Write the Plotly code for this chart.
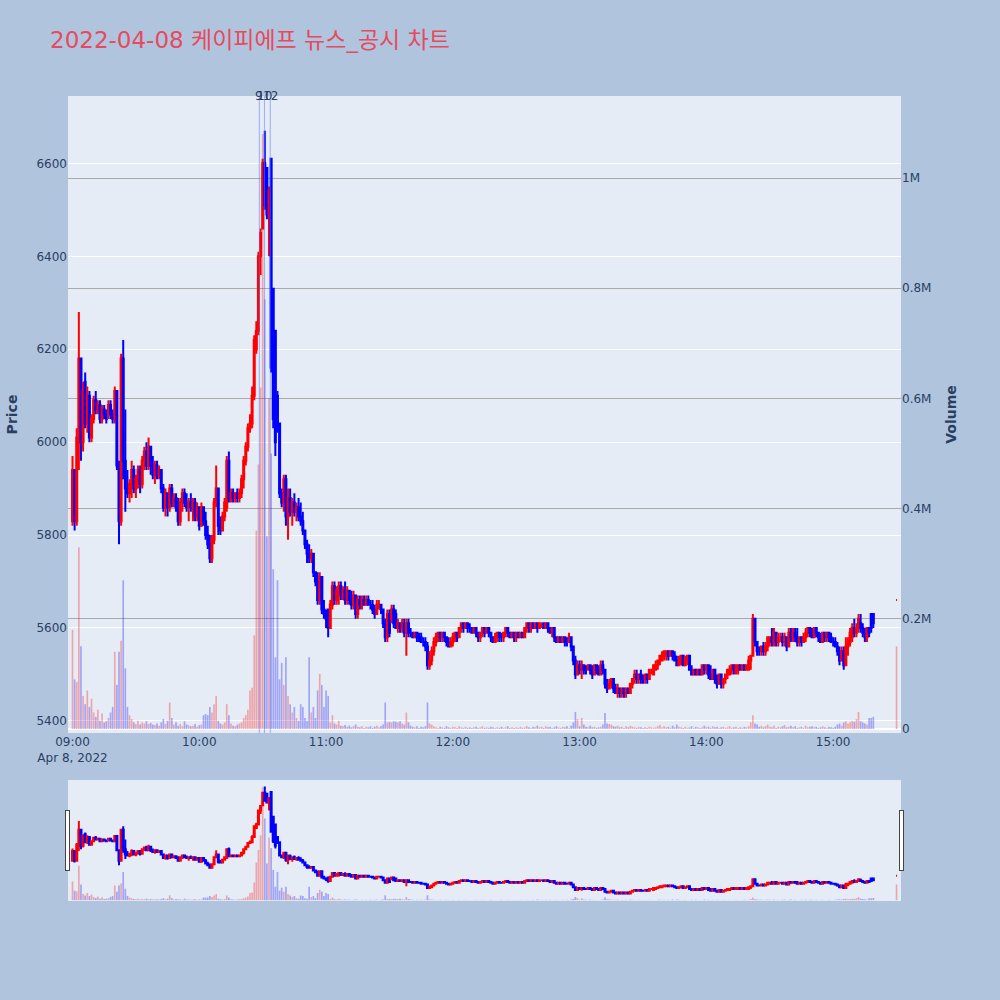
import pandas as pd
import plotly.graph_objects as go

title_text = "2022-04-08 케이피에프 뉴스_공시 차트"

times = pd.date_range("2022-04-08 09:00", "2022-04-08 15:19", freq="1min").append(
    pd.DatetimeIndex(["2022-04-08 15:30"]))

open_ = [
    5830,5940,5830,6000,6180,6000,6130,6040,6100,6010,
    6050,6090,6070,6080,6050,6070,6060,6060,6080,6060,
    6050,6110,5950,5830,6180,5960,5900,5890,5910,5940,
    5900,5920,5940,5910,5960,5980,5950,5990,5950,5930,
    5950,5930,5940,5900,5860,5890,5860,5900,5870,5880,
    5860,5830,5870,5890,5870,5860,5870,5860,5870,5840,
    5860,5820,5860,5830,5800,5780,5750,5790,5870,5900,
    5820,5810,5840,5860,5960,5880,5890,5880,5890,5880,
    5890,5920,5960,5990,6030,6040,6100,6200,6240,6400,
    6460,6600,6590,6490,6610,6330,6240,6100,6040,5890,
    5870,5920,5840,5880,5850,5870,5850,5860,5840,5830,
    5810,5780,5760,5750,5760,5720,5700,5660,5710,5640,
    5630,5640,5600,5650,5690,5660,5680,5690,5670,5680,
    5660,5680,5660,5650,5670,5630,5660,5650,5660,5650,
    5660,5650,5650,5640,5630,5650,5650,5640,5610,5580,
    5630,5620,5640,5630,5600,5610,5600,5610,5590,5610,
    5590,5590,5580,5590,5580,5580,5570,5570,5560,5520,
    5530,5550,5570,5580,5590,5580,5590,5580,5570,5560,
    5570,5580,5590,5580,5600,5610,5600,5610,5600,5600,
    5590,5600,5590,5580,5590,5600,5590,5600,5590,5580,
    5570,5580,5590,5580,5580,5590,5600,5590,5580,5590,
    5580,5590,5580,5590,5580,5600,5610,5600,5610,5600,
    5610,5600,5610,5610,5600,5610,5600,5590,5600,5580,
    5570,5580,5570,5580,5570,5570,5580,5560,5530,5500,
    5520,5510,5520,5510,5510,5520,5510,5500,5520,5510,
    5500,5520,5510,5480,5470,5480,5490,5470,5460,5470,
    5460,5470,5460,5470,5460,5480,5490,5500,5490,5500,
    5490,5490,5500,5490,5510,5500,5510,5520,5530,5530,
    5540,5540,5550,5540,5550,5540,5530,5520,5530,5540,
    5520,5530,5540,5510,5500,5510,5500,5510,5500,5520,
    5510,5520,5500,5490,5510,5490,5480,5500,5480,5490,
    5500,5500,5510,5520,5510,5510,5520,5510,5520,5510,
    5510,5530,5540,5620,5570,5550,5550,5560,5550,5560,
    5570,5580,5570,5590,5570,5580,5580,5570,5580,5560,
    5590,5580,5590,5580,5570,5580,5570,5580,5590,5600,
    5590,5580,5600,5590,5580,5570,5590,5580,5590,5580,
    5570,5570,5560,5550,5530,5550,5520,5560,5570,5580,
    5600,5590,5600,5610,5600,5590,5580,5600,5630,5630,
    5660,
]

high = [
    5970,5940,6030,6280,6180,6130,6150,6120,6110,6060,
    6100,6110,6090,6090,6080,6080,6070,6090,6090,6070,
    6120,6110,5960,6190,6220,6070,5940,5920,5960,5950,
    5930,5950,5950,5970,5990,6000,6010,5990,5970,5960,
    5960,5950,5940,5910,5900,5890,5910,5910,5890,5890,
    5880,5880,5900,5900,5890,5880,5890,5880,5880,5870,
    5860,5870,5860,5850,5820,5800,5800,5880,5950,5900,
    5840,5850,5880,5970,5980,5900,5900,5890,5900,5900,
    5930,5970,6000,6040,6060,6120,6230,6260,6410,6460,
    6610,6670,6590,6550,6610,6330,6240,6110,6040,5900,
    5930,5930,5900,5900,5880,5890,5870,5880,5870,5850,
    5810,5790,5780,5770,5760,5720,5720,5720,5710,5660,
    5640,5640,5660,5700,5700,5690,5700,5700,5690,5700,
    5690,5680,5680,5680,5670,5670,5670,5670,5670,5670,
    5670,5660,5660,5650,5660,5660,5650,5640,5620,5640,
    5640,5650,5650,5640,5620,5610,5620,5620,5620,5620,
    5600,5590,5590,5590,5590,5590,5580,5580,5570,5550,
    5560,5580,5590,5590,5590,5590,5590,5580,5580,5580,
    5590,5590,5590,5600,5610,5610,5610,5610,5610,5600,
    5600,5600,5590,5590,5600,5600,5600,5600,5590,5580,
    5590,5590,5590,5590,5590,5600,5600,5590,5590,5590,
    5590,5590,5590,5590,5600,5610,5610,5610,5610,5610,
    5610,5610,5610,5610,5610,5610,5600,5600,5600,5580,
    5580,5580,5580,5580,5580,5590,5580,5560,5540,5530,
    5530,5530,5520,5520,5520,5520,5520,5520,5520,5520,
    5530,5530,5510,5490,5490,5490,5490,5480,5480,5470,
    5470,5470,5470,5470,5480,5490,5510,5510,5500,5510,
    5500,5500,5500,5510,5510,5520,5530,5530,5540,5550,
    5550,5550,5550,5550,5550,5550,5540,5540,5540,5540,
    5540,5540,5540,5520,5510,5510,5510,5510,5520,5520,
    5520,5520,5520,5510,5510,5500,5500,5500,5490,5500,
    5510,5520,5520,5520,5520,5520,5520,5520,5520,5520,
    5540,5540,5630,5620,5570,5560,5560,5570,5570,5580,
    5580,5600,5600,5590,5590,5590,5590,5590,5580,5600,
    5600,5600,5600,5600,5580,5580,5590,5600,5600,5600,
    5600,5600,5600,5590,5590,5590,5590,5590,5590,5590,
    5580,5580,5570,5560,5560,5560,5580,5580,5600,5610,
    5620,5610,5630,5630,5610,5600,5600,5600,5630,5630,
    5660,
]

low = [
    5820,5810,5820,5940,5960,5980,6030,6020,6000,6000,
    6040,6060,6060,6040,6040,6050,6040,6050,6050,6040,
    6040,5940,5780,5820,5920,5850,5880,5870,5880,5890,
    5880,5900,5890,5900,5940,5940,5940,5930,5920,5910,
    5920,5920,5890,5850,5840,5840,5850,5860,5860,5850,
    5820,5820,5850,5860,5850,5830,5850,5830,5830,5830,
    5810,5820,5820,5790,5770,5740,5740,5780,5860,5800,
    5800,5810,5830,5850,5870,5870,5870,5870,5870,5870,
    5880,5900,5950,5980,6020,6030,6090,6190,6230,6360,
    6460,6500,6480,6400,6150,6030,5970,6020,5880,5860,
    5850,5820,5790,5840,5820,5840,5830,5830,5820,5800,
    5770,5740,5740,5740,5710,5690,5650,5650,5630,5620,
    5600,5580,5600,5640,5650,5650,5650,5660,5660,5650,
    5650,5650,5640,5640,5620,5620,5640,5640,5650,5650,
    5650,5640,5630,5620,5630,5640,5630,5600,5570,5570,
    5580,5610,5600,5600,5590,5590,5590,5580,5540,5580,
    5580,5580,5580,5570,5570,5570,5560,5550,5510,5510,
    5520,5540,5560,5570,5570,5570,5570,5560,5560,5560,
    5560,5570,5570,5580,5590,5590,5600,5590,5590,5590,
    5590,5580,5570,5570,5580,5580,5590,5580,5570,5570,
    5570,5570,5570,5570,5570,5580,5580,5580,5580,5570,
    5570,5580,5580,5580,5580,5590,5590,5590,5600,5600,
    5590,5600,5600,5600,5600,5590,5590,5580,5570,5570,
    5570,5570,5570,5560,5560,5570,5550,5520,5490,5500,
    5500,5490,5500,5500,5510,5500,5490,5500,5500,5500,
    5500,5500,5470,5460,5470,5470,5460,5460,5450,5450,
    5450,5450,5450,5460,5460,5470,5480,5480,5480,5480,
    5480,5480,5480,5490,5500,5500,5510,5510,5520,5530,
    5530,5530,5530,5540,5530,5530,5520,5520,5520,5520,
    5520,5520,5510,5500,5500,5500,5500,5500,5500,5500,
    5500,5490,5490,5490,5480,5470,5480,5470,5470,5480,
    5490,5500,5500,5500,5500,5500,5510,5510,5510,5510,
    5510,5510,5540,5560,5540,5540,5540,5540,5540,5550,
    5560,5560,5560,5560,5560,5570,5560,5560,5550,5560,
    5570,5570,5570,5560,5560,5560,5570,5570,5580,5580,
    5580,5580,5580,5570,5570,5570,5570,5570,5570,5570,
    5560,5560,5540,5520,5530,5510,5520,5540,5560,5570,
    5580,5580,5590,5590,5580,5570,5570,5580,5590,5600,
    5660,
]

close = [
    5940,5830,6010,6180,6000,6110,6040,6100,6010,6050,
    6090,6070,6080,6050,6070,6060,6050,6080,6060,6050,
    6110,5950,5830,6180,5960,5900,5890,5910,5940,5900,
    5920,5940,5910,5960,5980,5950,5990,5950,5930,5950,
    5930,5940,5900,5860,5890,5860,5900,5870,5880,5860,
    5830,5870,5890,5870,5860,5870,5860,5870,5840,5860,
    5820,5860,5830,5800,5780,5750,5790,5870,5900,5820,
    5810,5840,5870,5960,5880,5890,5880,5890,5880,5890,
    5920,5960,5990,6030,6040,6100,6220,6240,6400,6450,
    6600,6510,6490,6540,6160,6050,6000,6030,5890,5870,
    5920,5840,5880,5850,5870,5850,5860,5840,5830,5810,
    5780,5760,5750,5760,5720,5700,5660,5710,5640,5630,
    5620,5600,5650,5690,5660,5680,5690,5670,5680,5660,
    5680,5660,5650,5670,5630,5660,5650,5660,5650,5660,
    5650,5650,5640,5630,5650,5650,5640,5610,5580,5630,
    5590,5640,5610,5600,5610,5600,5610,5590,5610,5590,
    5590,5580,5590,5580,5580,5570,5570,5560,5520,5530,
    5550,5570,5580,5590,5580,5590,5580,5570,5560,5570,
    5580,5590,5580,5600,5610,5600,5610,5600,5600,5590,
    5600,5590,5580,5590,5600,5590,5600,5590,5580,5570,
    5580,5590,5580,5580,5590,5600,5590,5580,5590,5580,
    5590,5580,5590,5580,5600,5610,5600,5610,5600,5610,
    5600,5610,5610,5600,5610,5600,5590,5600,5580,5570,
    5580,5570,5580,5570,5570,5580,5560,5530,5500,5520,
    5510,5520,5510,5510,5520,5510,5500,5520,5510,5500,
    5520,5510,5480,5470,5480,5490,5470,5460,5470,5460,
    5470,5460,5470,5460,5480,5490,5500,5490,5500,5490,
    5490,5500,5490,5510,5510,5520,5520,5530,5540,5540,
    5550,5550,5540,5550,5540,5530,5520,5530,5540,5520,
    5530,5540,5510,5500,5510,5500,5510,5500,5520,5510,
    5520,5500,5490,5510,5490,5480,5500,5480,5490,5500,
    5510,5510,5520,5510,5520,5520,5510,5520,5510,5520,
    5530,5540,5620,5570,5550,5550,5560,5550,5560,5580,
    5580,5570,5590,5570,5580,5580,5570,5580,5560,5590,
    5580,5590,5580,5570,5580,5570,5580,5590,5600,5590,
    5580,5600,5590,5580,5570,5590,5580,5590,5580,5570,
    5570,5560,5550,5530,5550,5520,5560,5570,5590,5600,
    5590,5600,5620,5600,5590,5580,5600,5590,5600,5610,
    5660,
]

volume = [
    180000,90000,85000,330000,150000,60000,45000,70000,40000,55000,
    30000,22000,35000,15000,28000,12000,14000,20000,30000,40000,
    140000,80000,140000,160000,270000,110000,40000,25000,18000,12000,
    9000,15000,8000,12000,10000,14000,9000,11000,8000,7000,
    10000,6000,12000,18000,9000,15000,48000,20000,8000,12000,
    6000,9000,5000,14000,8000,7000,5000,6000,9000,4000,
    7000,8000,25000,27000,25000,40000,30000,45000,60000,15000,
    10000,8000,12000,45000,25000,10000,6000,5000,8000,10000,
    12000,20000,25000,35000,70000,75000,170000,360000,480000,620000,
    1080000,780000,350000,600000,500000,290000,130000,270000,90000,120000,
    80000,130000,60000,45000,30000,40000,20000,15000,45000,40000,
    20000,15000,130000,30000,40000,20000,70000,100000,80000,40000,
    70000,60000,12000,25000,10000,8000,15000,6000,5000,7000,
    4000,6000,3000,5000,8000,4000,3000,5000,2000,4000,
    3000,5000,2000,4000,6000,3000,5000,8000,48000,12000,
    13000,12000,14000,13000,12000,14000,10000,8000,30000,12000,
    6000,4000,3000,5000,2000,4000,3000,5000,48000,10000,
    8000,5000,3000,2000,4000,3000,2000,5000,3000,2000,
    4000,3000,2000,5000,3000,2000,4000,2000,3000,2000,
    3000,4000,2000,3000,5000,2000,3000,2000,4000,3000,
    2000,3000,2000,4000,2000,3000,5000,2000,3000,2000,
    3000,2000,4000,2000,3000,5000,3000,2000,4000,3000,
    6000,3000,4000,2000,5000,3000,4000,2000,3000,5000,
    3000,2000,4000,3000,5000,2000,6000,12000,31000,18000,
    5000,20000,8000,4000,3000,6000,3000,4000,2000,3000,
    4000,8000,29000,10000,9000,8000,5000,4000,6000,3000,
    4000,2000,5000,3000,6000,4000,3000,2000,4000,3000,
    2000,3000,2000,4000,3000,2000,3000,5000,7000,3000,
    5000,3000,4000,2000,6000,3000,8000,4000,3000,2000,
    4000,2000,3000,5000,2000,4000,3000,2000,3000,6000,
    3000,4000,2000,5000,3000,4000,2000,3000,4000,2000,
    3000,5000,2000,3000,4000,2000,3000,2000,4000,3000,
    5000,12000,25000,10000,8000,4000,6000,3000,5000,8000,
    4000,3000,6000,2000,4000,3000,5000,7000,3000,4000,
    6000,3000,5000,2000,3000,4000,2000,6000,3000,4000,
    5000,3000,4000,2000,3000,5000,3000,2000,4000,3000,
    2000,4000,8000,10000,6000,12000,14000,10000,12000,15000,
    13000,18000,31000,14000,12000,10000,8000,20000,20000,22000,
    150000,
]

news_times = ["2022-04-08 10:28:25", "2022-04-08 10:30:50", "2022-04-08 10:33:35"]
news_labels = ["9", "10", "12"]

x_range = ["2022-04-08 08:57:52", "2022-04-08 15:32:06"]

# direction of each bar, following plotly's candlestick rule
bar_colors = []
prev_c = None
up = True
for o, c in zip(open_, close):
    if c != o:
        up = c > o
    elif prev_c is not None and c != prev_c:
        up = c > prev_c
    prev_c = c
    bar_colors.append("rgba(255,0,0,0.3)" if up else "rgba(0,0,255,0.3)")

FONT = "DejaVu Sans, Verdana, Noto Sans CJK KR, sans-serif"

fig = go.Figure()
fig.add_trace(go.Bar(
    x=times, y=volume, marker=dict(color=bar_colors, line=dict(width=0)),
    yaxis="y", name="Volume", showlegend=False))
fig.add_trace(go.Candlestick(
    x=times, open=open_, high=high, low=low, close=close, yaxis="y2",
    increasing=dict(line=dict(color="red", width=2), fillcolor="red"),
    decreasing=dict(line=dict(color="blue", width=2), fillcolor="blue"),
    name="Price", showlegend=False))

shapes = []
annotations = []
for t, lab in zip(news_times, news_labels):
    shapes.append(dict(type="line", xref="x", yref="paper", x0=t, x1=t, y0=0, y1=1,
                       line=dict(color="rgba(90,120,255,0.55)", width=1)))
    annotations.append(dict(x=t, y=1, xref="x", yref="paper", text=lab, showarrow=False,
                            yanchor="middle", font=dict(size=12, color="#2a3f5f")))

fig.update_layout(
    width=1000, height=1000,
    paper_bgcolor="lightsteelblue",
    plot_bgcolor="#E5ECF6",
    font=dict(family=FONT, size=12, color="#2a3f5f"),
    margin=dict(l=68, r=99, t=96, b=100),
    title=dict(text=title_text, x=0.05, font=dict(size=23, color="#E64A5F", family=FONT)),
    showlegend=False,
    xaxis=dict(type="date", showgrid=False, range=x_range,
               rangeslider=dict(visible=True, bgcolor="#E5ECF6", thickness=0.15,
                                range=x_range, autorange=False)),
    yaxis=dict(title=dict(text="<b>Volume</b>", font=dict(size=14)), side="right",
               range=[-7300, 1149000], showgrid=True, gridcolor="darkgray",
               zeroline=True, zerolinecolor="white"),
    yaxis2=dict(title=dict(text="<b>Price</b>", font=dict(size=14)), side="left",
                overlaying="y", range=[5374, 6745], showgrid=True, gridcolor="white"),
    shapes=shapes,
    annotations=annotations,
)

fig.write_html("out.html", config={"displayModeBar": False},
               post_script="document.body.style.margin='0px';")
